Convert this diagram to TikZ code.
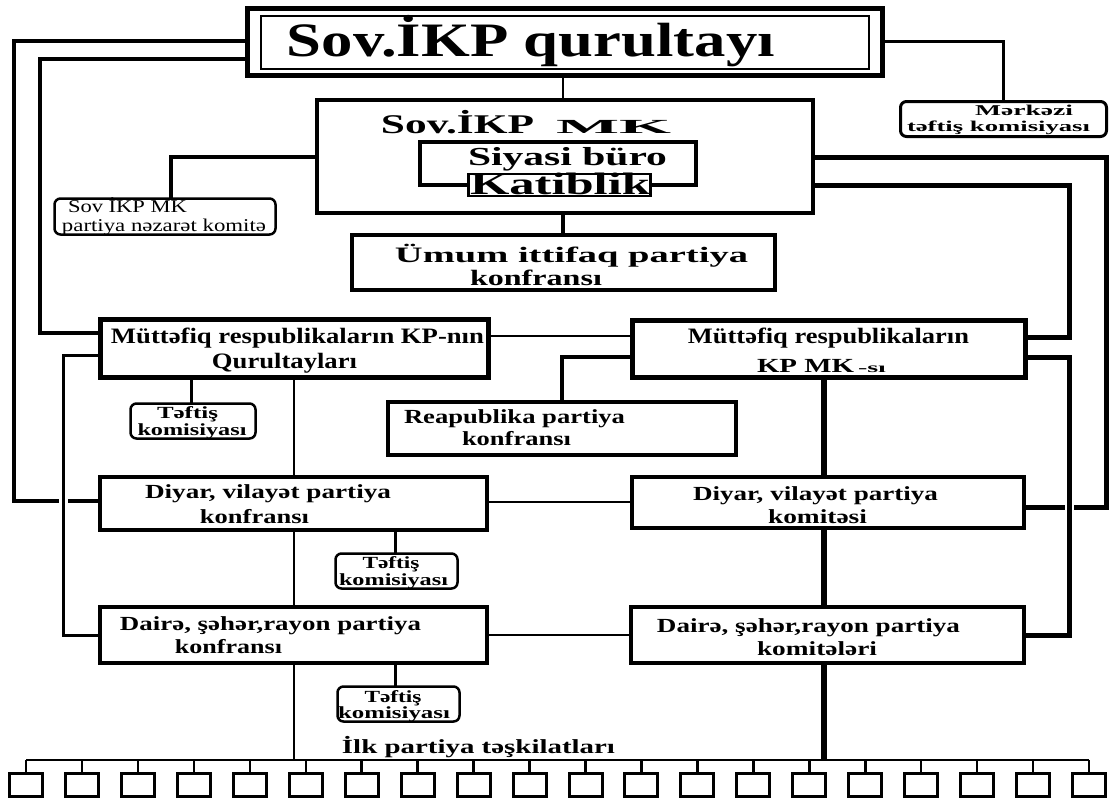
\documentclass[tikz,border=0pt]{standalone}
\usepackage{fontspec}
\setmainfont{Liberation Serif}
\usepackage{graphicx}
\usetikzlibrary{backgrounds}
\tikzset{box/.style={draw, rectangle, line width=4pt, fill=white, inner sep=0pt, outer sep=0pt}}
\tikzset{rbox/.style={box, line width=2.5pt, rounded corners=6pt}}
\tikzset{leaf/.style={box, line width=3pt, minimum width=33pt, minimum height=23pt}}
\tikzset{link/.style={line width=2.5pt}}
\tikzset{heavy/.style={line width=5pt}}
\tikzset{hop/.style={preaction={draw=white, line width=9pt}}}
\tikzset{txt/.style={anchor=base, inner sep=0pt, font=\bfseries}}
\newcommand{\fitw}[2]{\resizebox{#1pt}{\height}{#2}}
\newcommand{\fs}[1]{\fontsize{#1}{#1}\selectfont}

\begin{document}
\begin{tikzpicture}[x=1pt,y=-1pt]
  \useasboundingbox (0,0) rectangle (1111,800);
  % Boxes
  \node[box, line width=5pt, minimum width=635pt, minimum height=67pt] (qurultay) at (565,42) {};
  \node[box, line width=2pt, minimum width=608pt, minimum height=53pt] (qurultayIn) at (565,42.5) {};
  \node[box, minimum width=496pt, minimum height=113pt] (mk) at (565,156.5) {};
  \node[box, minimum width=276pt, minimum height=43pt] (siyasi) at (558,163.5) {};
  \node[box, line width=2.5pt, minimum width=182pt, minimum height=22pt] (katib) at (559.5,185) {};
  \node[rbox, minimum width=221pt, minimum height=36pt] (nezaret) at (165,216.5) {};
  \node[rbox, line width=3pt, minimum width=206pt, minimum height=35pt] (merkezi) at (1003.5,119) {};
  \node[box, minimum width=423pt, minimum height=55pt] (umum) at (563.5,262.5) {};
  \node[box, line width=5pt, minimum width=388pt, minimum height=58pt] (qurlar) at (294.5,348.5) {};
  \node[box, line width=5pt, minimum width=393pt, minimum height=57pt] (kpmk) at (829,349) {};
  \node[box, minimum width=348pt, minimum height=53pt] (reap) at (562,428.5) {};
  \node[rbox, minimum width=125pt, minimum height=35pt] (teftis1) at (193,421) {};
  \node[box, minimum width=387pt, minimum height=53pt] (diyarK) at (293.5,503.5) {};
  \node[box, minimum width=392pt, minimum height=51pt] (diyarM) at (828,502.5) {};
  \node[rbox, minimum width=122pt, minimum height=35pt] (teftis2) at (396.5,571) {};
  \node[box, minimum width=387pt, minimum height=56pt] (dairaK) at (293.5,635) {};
  \node[box, line width=3.5pt, minimum width=393pt, minimum height=56pt] (dairaM) at (827.5,635) {};
  \node[rbox, minimum width=122pt, minimum height=35pt] (teftis3) at (398.5,704) {};
  \foreach \i in {0,...,19} {
    \node[leaf] (leaf\i) at ({26+55.95*\i},785) {};
  }
  \coordinate (busL) at (294,760);
  \coordinate (busR) at (824,760);

  % Connectors
  \begin{pgfonlayer}{background}
    \fill[white] (0,0) rectangle (1111,800);
    % left side
    \draw[link, line width=3.5pt] (qurultay.west |- 0,41) -| (14,501) -- (diyarK.west |- 0,501);
    \draw[link, line width=3.5pt] (qurultay.west |- 0,59) -| (40,333) -- (qurlar.west |- 0,333);
    % top centre
    \draw[link] (qurultay.south -| 563,0) -- (mk.north -| 563,0);
    \draw[link, line width=3pt] (qurultay.east |- 0,42) -| (merkezi.north);
    \draw[link, line width=4pt] (mk.west |- 0,157) -| (nezaret.north -| 171,0);
    \draw[link, line width=4pt] (mk.south -| 563,0) -- (umum.north -| 563,0);
    % right side
    \draw[heavy] (mk.east |- 0,157) -| (1106,507) -- (diyarM.east |- 0,507);
    \draw[heavy] (mk.east |- 0,185) -| (1069,337) -- (kpmk.east |- 0,337);
    % republic level
    \draw[link] (qurlar.east |- 0,336) -- (kpmk.west |- 0,336);
    \draw[link, line width=4pt] (kpmk.west |- 0,357) -| (reap.north);
    \draw[link, line width=3pt] (qurlar.south -| 191,0) -- (teftis1.north -| 191,0);
    % left chain
    \draw[link] (qurlar.south -| 294,0) -- (diyarK.north -| 294,0);
    \draw[link] (diyarK.south -| 294,0) -- (dairaK.north -| 294,0);
    \draw[link] (dairaK.south -| 294,0) -- (busL);
    \draw[link] (diyarK.east |- 0,502) -- (diyarM.west |- 0,502);
    \draw[link] (dairaK.east |- 0,635) -- (dairaM.west |- 0,635);
    \draw[link, line width=3pt] (diyarK.south -| 395,0) -- (teftis2.north -| 395,0);
    \draw[link, line width=3pt] (dairaK.south -| 395,0) -- (teftis3.north -| 395,0);
    % right chain
    \draw[heavy, line width=6pt] (kpmk.south -| 824,0) -- (diyarM.north -| 824,0);
    \draw[heavy, line width=6pt] (diyarM.south -| 824,0) -- (dairaM.north -| 824,0);
    \draw[heavy, line width=6pt] (dairaM.south -| 824,0) -- (busR);
    % primary organisations
    \draw[link] (leaf0.north |- busL) -- (leaf19.north |- busL);
    \foreach \i in {0,...,19} {
      \draw[link] (leaf\i.north) -- (leaf\i.north |- busL);
    }
    % lines that hop over others
    \draw[link, line width=3pt, hop] (qurlar.west |- 0,355) -| (63,635) -- (dairaK.west |- 0,635);
    \draw[heavy, hop] (kpmk.east |- 0,357) -| (1069,635) -- (dairaM.east |- 0,635);
  \end{pgfonlayer}

  % Texts
  \node[txt, font=\bfseries\fs{48}] (qurultayT) at (531,57) {\fitw{488}{Sov.İKP qurultayı}};
  \node[txt, font=\bfseries\fs{27}] (mkT) at (526,133) {\fitw{153}{Sov.İKP}\hspace{22pt}{\fs{20}\fitw{115}{MK}}};
  \node[txt, font=\bfseries\fs{26}] (siyasiT) at (567.5,165) {\fitw{199}{Siyasi büro}};
  \node[txt, font=\bfseries\fs{31}] (katibT) at (560,194) {\fitw{180}{Katiblik}};
  \node[txt, font=\fs{18}] (nezaretA) at (127.5,212) {\fitw{119}{Sov İKP MK}};
  \node[txt, font=\fs{18}] (nezaretB) at (164,231) {\fitw{204}{partiya nəzarət komitə}};
  \node[txt, font=\bfseries\fs{15}] (merkeziA) at (1024,115) {\fitw{98}{Mərkəzi}};
  \node[txt, font=\bfseries\fs{15}] (merkeziB) at (998.5,131) {\fitw{183}{təftiş komisiyası}};
  \node[txt, font=\bfseries\fs{22}] (umumA) at (571.5,262) {\fitw{353}{Ümum ittifaq partiya}};
  \node[txt, font=\bfseries\fs{22}] (umumB) at (536,285) {\fitw{132}{konfransı}};
  \node[txt, font=\bfseries\fs{22}] (qurlarA) at (297.5,343) {\fitw{373}{Müttəfiq respublikaların KP-nın}};
  \node[txt, font=\bfseries\fs{22}] (qurlarB) at (284.5,368) {\fitw{145}{Qurultayları}};
  \node[txt, font=\bfseries\fs{22}] (kpmkA) at (828.5,343) {\fitw{281}{Müttəfiq respublikaların}};
  \node[txt, font=\bfseries\fs{20}] (kpmkB) at (821.5,372) {\fitw{97}{KP MK}\hspace{4pt}{\fs{14}\fitw{28}{-sı}}};
  \node[txt, font=\bfseries\fs{20}] (reapA) at (514.5,423) {\fitw{221}{Reapublika partiya}};
  \node[txt, font=\bfseries\fs{20}] (reapB) at (516.5,445) {\fitw{109}{konfransı}};
  \node[txt, font=\bfseries\fs{17}] (teftis1A) at (187.5,418) {\fitw{61}{Təftiş}};
  \node[txt, font=\bfseries\fs{17}] (teftis1B) at (192,435) {\fitw{109}{komisiyası}};
  \node[txt, font=\bfseries\fs{20}] (diyarKA) at (268,498) {\fitw{246}{Diyar, vilayət partiya}};
  \node[txt, font=\bfseries\fs{20}] (diyarKB) at (254.5,523) {\fitw{109}{konfransı}};
  \node[txt, font=\bfseries\fs{20}] (diyarMA) at (815.5,500) {\fitw{245}{Diyar, vilayət partiya}};
  \node[txt, font=\bfseries\fs{20}] (diyarMB) at (817.5,523) {\fitw{99}{komitəsi}};
  \node[txt, font=\bfseries\fs{17}] (teftis2A) at (391,568) {\fitw{57}{Təftiş}};
  \node[txt, font=\bfseries\fs{17}] (teftis2B) at (393.5,585) {\fitw{109}{komisiyası}};
  \node[txt, font=\bfseries\fs{20}] (dairaKA) at (270.5,630) {\fitw{301}{Dairə, şəhər,rayon partiya}};
  \node[txt, font=\bfseries\fs{20}] (dairaKB) at (228.5,653) {\fitw{107}{konfransı}};
  \node[txt, font=\bfseries\fs{20}] (dairaMA) at (808.5,632) {\fitw{303}{Dairə, şəhər,rayon partiya}};
  \node[txt, font=\bfseries\fs{20}] (dairaMB) at (817,655) {\fitw{120}{komitələri}};
  \node[txt, font=\bfseries\fs{17}] (teftis3A) at (393,702) {\fitw{57}{Təftiş}};
  \node[txt, font=\bfseries\fs{17}] (teftis3B) at (394,718) {\fitw{112}{komisiyası}};
  \node[txt, font=\bfseries\fs{20}] (ilkT) at (478.5,753) {\fitw{273}{İlk partiya təşkilatları}};
\end{tikzpicture}
\end{document}
